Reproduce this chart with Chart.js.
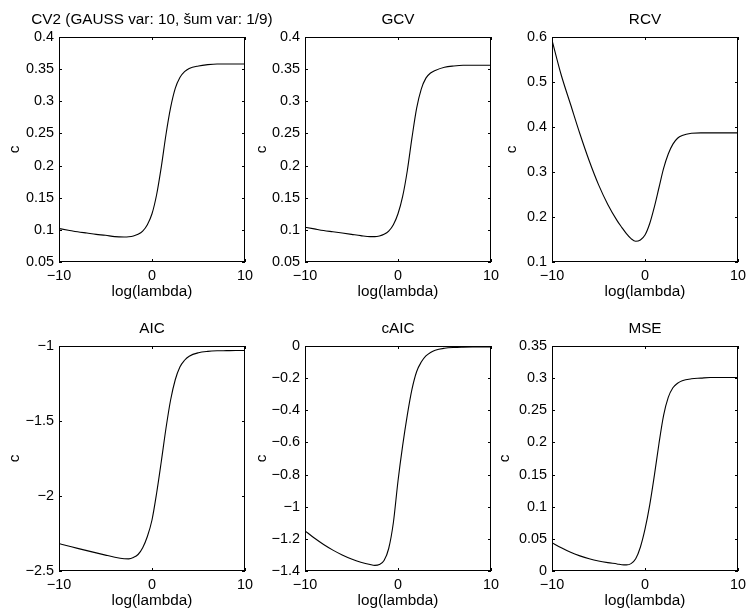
<!DOCTYPE html>
<html>
<head>
<meta charset="utf-8">
<script src="https://cdn.jsdelivr.net/npm/chart.js"></script>
<style>
  html, body { margin: 0; padding: 0; background: #fff; }
  body { position: relative; width: 746px; height: 613px; overflow: hidden; }
  canvas { position: absolute; }
</style>
</head>
<body>
<canvas id="p1" width="304" height="300" style="left:0px;top:0px"></canvas>
<canvas id="p2" width="304" height="300" style="left:246px;top:0px"></canvas>
<canvas id="p3" width="304" height="300" style="left:493px;top:0px"></canvas>
<canvas id="p4" width="304" height="300" style="left:0px;top:309px"></canvas>
<canvas id="p5" width="304" height="300" style="left:246px;top:309px"></canvas>
<canvas id="p6" width="304" height="300" style="left:493px;top:309px"></canvas>
<script>
// log(lambda) sample points (denser around the steep part)
const xs = [-10, -9, -8, -7, -6, -5, -4, -3, -2.5, -2, -1.5, -1, -0.5, 0, 0.5, 1, 1.5, 2, 2.5, 3, 3.5, 4, 5, 6, 7, 8, 9, 10];
const xTicks = [-10, 0, 10];

const cv2 = [0.102, 0.0995, 0.097, 0.095, 0.093, 0.0915, 0.0895, 0.089, 0.0893, 0.0905, 0.093, 0.098, 0.108, 0.125, 0.155, 0.198, 0.248, 0.29, 0.32, 0.337, 0.346, 0.351, 0.355, 0.357, 0.358, 0.358, 0.358, 0.358];
const gcv = [0.104, 0.1015, 0.099, 0.097, 0.095, 0.093, 0.091, 0.0895, 0.0895, 0.0905, 0.093, 0.098, 0.108, 0.125, 0.152, 0.192, 0.243, 0.289, 0.319, 0.336, 0.344, 0.348, 0.353, 0.355, 0.356, 0.356, 0.356, 0.356];
const rcv = [0.593, 0.515, 0.45, 0.385, 0.325, 0.272, 0.228, 0.192, 0.177, 0.163, 0.152, 0.146, 0.149, 0.16, 0.185, 0.222, 0.265, 0.308, 0.34, 0.362, 0.375, 0.381, 0.386, 0.387, 0.387, 0.387, 0.387, 0.387];
const aic = [-2.317, -2.333, -2.349, -2.364, -2.379, -2.394, -2.408, -2.418, -2.419, -2.41, -2.39, -2.345, -2.27, -2.16, -1.98, -1.77, -1.55, -1.36, -1.225, -1.14, -1.095, -1.068, -1.045, -1.036, -1.032, -1.031, -1.03, -1.03];
const caic = [-1.15, -1.195, -1.235, -1.27, -1.3, -1.325, -1.345, -1.36, -1.365, -1.36, -1.335, -1.26, -1.1, -0.84, -0.62, -0.43, -0.27, -0.16, -0.1, -0.062, -0.04, -0.026, -0.014, -0.009, -0.007, -0.006, -0.006, -0.006];
const mse = [0.044, 0.036, 0.029, 0.0235, 0.019, 0.0155, 0.013, 0.011, 0.0098, 0.0095, 0.0115, 0.019, 0.037, 0.065, 0.102, 0.148, 0.198, 0.242, 0.27, 0.285, 0.292, 0.296, 0.299, 0.3, 0.301, 0.301, 0.301, 0.301];

const cv2Ticks = [0.05, 0.1, 0.15, 0.2, 0.25, 0.3, 0.35, 0.4];
const gcvTicks = [0.05, 0.1, 0.15, 0.2, 0.25, 0.3, 0.35, 0.4];
const rcvTicks = [0.1, 0.2, 0.3, 0.4, 0.5, 0.6];
const aicTicks = [-2.5, -2, -1.5, -1];
const caicTicks = [-1.4, -1.2, -1, -0.8, -0.6, -0.4, -0.2, 0];
const mseTicks = [0, 0.05, 0.1, 0.15, 0.2, 0.25, 0.3, 0.35];

const titles = ['CV2 (GAUSS var: 10, \u0161um var: 1/9)', 'GCV', 'RCV', 'AIC', 'cAIC', 'MSE'];

Chart.defaults.font.family = "'Liberation Sans', Arial, Helvetica, sans-serif";
Chart.defaults.color = '#000';

const minus = (v) => String(v).replace('-', '\u2212');

// matlab style box with inward ticks on all four sides
const boxPlugin = {
  id: 'matlabBox',
  afterDraw(chart) {
    const { ctx, chartArea: a, scales } = chart;
    const tl = 3;
    ctx.save();
    ctx.strokeStyle = '#000';
    ctx.lineWidth = 1;
    ctx.strokeRect(a.left + 0.5, a.top + 0.5, a.right - a.left - 1, a.bottom - a.top - 1);
    ctx.beginPath();
    scales.x.ticks.forEach(t => {
      const px = Math.round(scales.x.getPixelForValue(t.value)) + 0.5;
      ctx.moveTo(px, a.bottom); ctx.lineTo(px, a.bottom - tl);
      ctx.moveTo(px, a.top); ctx.lineTo(px, a.top + tl);
    });
    scales.y.ticks.forEach(t => {
      const py = Math.round(scales.y.getPixelForValue(t.value)) + 0.5;
      ctx.moveTo(a.left, py); ctx.lineTo(a.left + tl, py);
      ctx.moveTo(a.right, py); ctx.lineTo(a.right - tl, py);
    });
    ctx.stroke();
    ctx.restore();
  }
};

function makePanel(id, title, values, yTicks, yTitlePad) {
  const ctx = document.getElementById(id).getContext('2d');
  return new Chart(ctx, {
    type: 'line',
    data: {
      datasets: [{
        data: xs.map((x, i) => ({ x: x, y: values[i] })),
        borderColor: '#000',
        borderWidth: 1.1,
        pointRadius: 0,
        cubicInterpolationMode: 'monotone',
        fill: false
      }]
    },
    options: {
      responsive: false,
      animation: false,
      events: [],
      layout: { padding: { top: 12, left: 0, right: 0, bottom: 0 } },
      scales: {
        x: {
          type: 'linear',
          min: xTicks[0],
          max: xTicks[xTicks.length - 1],
          afterBuildTicks: (s) => { s.ticks = xTicks.map(v => ({ value: v })); },
          afterFit: (s) => { s.height = 38; },
          grid: { display: false, drawTicks: false },
          border: { display: false },
          ticks: { font: { size: 14.4 }, padding: 5, maxRotation: 0, autoSkip: false, callback: minus },
          title: { display: true, text: 'log(lambda)', font: { size: 15.3, lineHeight: '16px' }, padding: { top: 0, bottom: 0 } }
        },
        y: {
          type: 'linear',
          position: 'left',
          min: yTicks[0],
          max: yTicks[yTicks.length - 1],
          afterBuildTicks: (s) => { s.ticks = yTicks.map(v => ({ value: v })); },
          afterFit: (s) => { s.width = 59; },
          grid: { display: false, drawTicks: false },
          border: { display: false },
          ticks: { font: { size: 14.4 }, padding: 5, autoSkip: false, callback: minus },
          title: { display: true, text: 'c', font: { size: 15.3, lineHeight: '16px' }, padding: { top: yTitlePad, bottom: 0 } }
        },
        yR: {
          type: 'linear',
          position: 'right',
          display: true,
          afterFit: (s) => { s.width = 59; },
          grid: { display: false },
          border: { display: false },
          ticks: { display: false }
        }
      },
      plugins: {
        legend: { display: false },
        tooltip: { enabled: false },
        title: {
          display: true,
          text: title,
          font: { size: 15.3, weight: 'normal', lineHeight: '16px' },
          padding: { top: 0, bottom: 9 }
        }
      }
    },
    plugins: [boxPlugin]
  });
}

makePanel('p1', titles[0], cv2, cv2Ticks, 7);
makePanel('p2', titles[1], gcv, gcvTicks, 8);
makePanel('p3', titles[2], rcv, rcvTicks, 11);
makePanel('p4', titles[3], aic, aicTicks, 7);
makePanel('p5', titles[4], caic, caicTicks, 8);
makePanel('p6', titles[5], mse, mseTicks, 4);
</script>
</body>
</html>
